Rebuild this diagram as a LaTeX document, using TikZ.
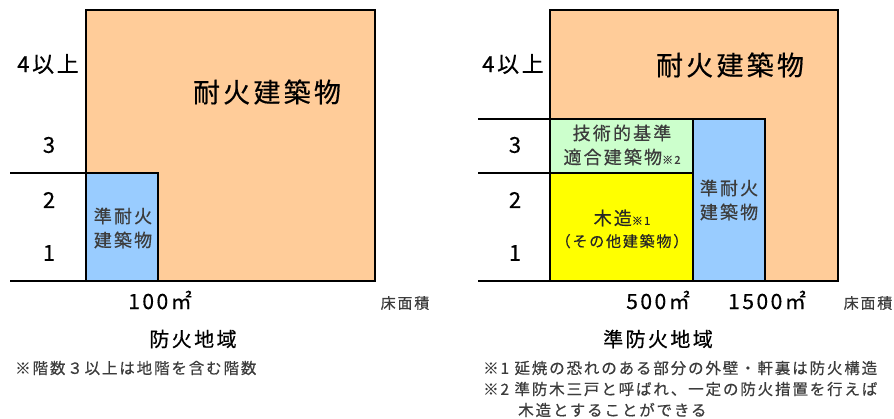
\documentclass[tikz,border=0pt]{standalone}
\usepackage{fontspec}
\usepackage{xcolor}
\setmainfont{Noto Sans CJK JP}[LetterSpace=12,FakeBold=0.5]

\definecolor{fireproof}{RGB}{255,204,153}
\definecolor{semiproof}{RGB}{153,204,255}
\definecolor{techbase}{RGB}{204,255,204}
\definecolor{wooden}{RGB}{255,255,0}
\definecolor{inkgray}{RGB}{60,60,60}

\tikzset{
  block/.style={draw=black,line width=2.2pt},
  floorline/.style={line width=2.2pt},
  floor/.style={font=\fontsize{22}{24}\selectfont},
  big/.style={font=\fontsize{27}{30}\selectfont},
  boxtext/.style={font=\fontsize{18}{24}\selectfont,align=center,text=inkgray},
  area/.style={font=\fontsize{21}{22}\selectfont},
  unit/.style={font=\fontsize{15}{17}\selectfont,text=inkgray},
  zone/.style={font=\fontsize{20}{22}\selectfont},
  note/.style={font=\fontsize{15.5}{18}\selectfont,text=inkgray,anchor=west,inner sep=0pt},
}
\newcommand{\refmark}[1]{{\fontsize{11}{12}\selectfont #1}}

\begin{document}
\begin{tikzpicture}[x=1pt,y=-1pt]
\useasboundingbox (0,0) rectangle (894,418);
% left: fire zone
\filldraw[block,fill=fireproof] (86,10) rectangle (375,281);
\filldraw[block,fill=semiproof] (86,173) rectangle (158,281);
\coordinate (lA) at (10,173);
\coordinate (lB) at (86,173);
\coordinate (l0) at (10,281);
\coordinate (l1) at (375,281);
\draw[floorline] (lA) -- (lB);
\draw[floorline] (l0) -- (l1);
\node[floor] (lf4) at (48,64) {4以上};
\node[floor] (lf3) at (49,145) {3};
\node[floor] (lf2) at (49,200) {2};
\node[floor] (lf1) at (49,253) {1};
\node[big] (lfire) at (267,92) {耐火建築物};
\node[boxtext] (lsemi) at (123,228) {準耐火\\建築物};
\node[area] (l100) at (160,300) {100㎡};
\node[unit] (lunit) at (405,303) {床面積};
\node[zone] (lzone) at (193,339) {防火地域};
\node[note] (lnote) at (15,368) {※階数３以上は地階を含む階数};
% right: semi fire zone
\filldraw[block,fill=fireproof] (550,10) rectangle (838,281);
\filldraw[block,fill=semiproof] (693,119) rectangle (765,281);
\filldraw[block,fill=techbase] (550,119) rectangle (693,173);
\filldraw[block,fill=wooden] (550,173) rectangle (693,281);
\coordinate (rA) at (478,119);
\coordinate (rB) at (550,119);
\coordinate (rC) at (478,173);
\coordinate (rD) at (550,173);
\coordinate (r0) at (478,281);
\coordinate (r1) at (838,281);
\draw[floorline] (rA) -- (rB);
\draw[floorline] (rC) -- (rD);
\draw[floorline] (r0) -- (r1);
\node[floor] (rf4) at (513,64) {4以上};
\node[floor] (rf3) at (515,145) {3};
\node[floor] (rf2) at (515,200) {2};
\node[floor] (rf1) at (515,253) {1};
\node[big] (rfire) at (730,65) {耐火建築物};
\node[boxtext] (rtech) at (622,145) {技術的基準\\適合建築物\refmark{※2}};
\node[boxtext,font=\fontsize{15}{22}\selectfont,text=black!85] (rwood) at (622,229) {{\fontsize{18}{22}\selectfont 木造}\refmark{※1}\\（その他建築物）};
\node[boxtext] (rsemi) at (729,200) {準耐火\\建築物};
\node[area] (r500) at (658,300) {500㎡};
\node[area] (r1500) at (767,300) {1500㎡};
\node[unit] (runit) at (868,303) {床面積};
\node[zone] (rzone) at (658,339) {準防火地域};
\node[note] (rnote1) at (483,368) {※1 延焼の恐れのある部分の外壁・軒裏は防火構造};
\node[note] (rnote2) at (483,389) {※2 準防木三戸と呼ばれ、一定の防火措置を行えば};
\node[note] (rnote3) at (518,410) {木造とすることができる};
\end{tikzpicture}
\end{document}
